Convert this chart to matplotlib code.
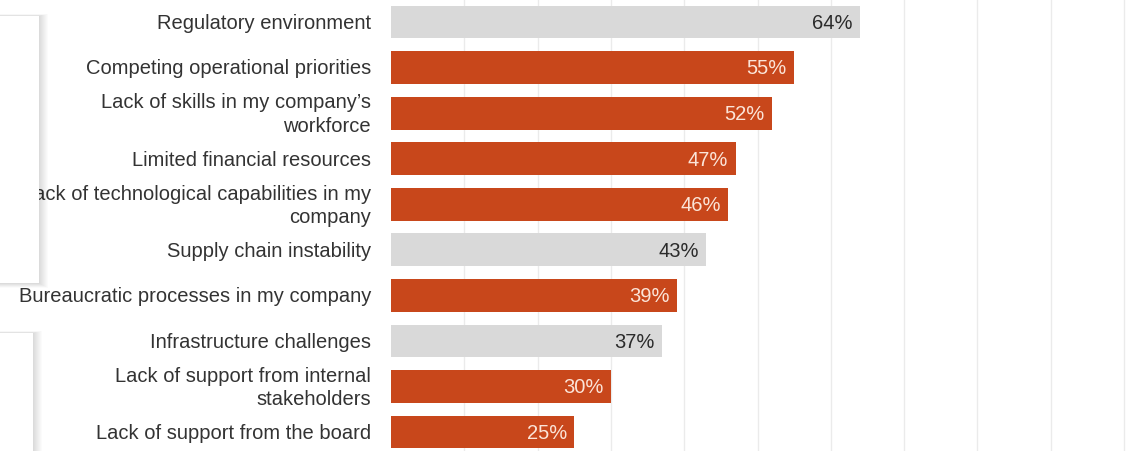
import numpy as np
import matplotlib.pyplot as plt
from matplotlib.patches import Rectangle

plt.rcParams['font.family'] = ['Liberation Sans', 'DejaVu Sans']

categories = [
    "Regulatory environment",
    "Competing operational priorities",
    "Lack of skills in my company\u2019s\nworkforce",
    "Limited financial resources",
    "Lack of technological capabilities in my\ncompany",
    "Supply chain instability",
    "Bureaucratic processes in my company",
    "Infrastructure challenges",
    "Lack of support from internal\nstakeholders",
    "Lack of support from the board",
]
values = [64, 55, 52, 47, 46, 43, 39, 37, 30, 25]
highlight = [False, True, True, True, True, False, True, False, True, True]

ORANGE = '#C8471B'
GREY = '#D9D9D9'

W, H = 1137, 451
fig = plt.figure(figsize=(W / 100, H / 100), dpi=100)
fig.patch.set_facecolor('white')

ax = fig.add_axes([391 / W, 0, 1 - 391 / W, 1])
ax.set_xlim(0, (W - 391) / 7.33)
ax.set_ylim(9.416, -0.483)
for s in ax.spines.values():
    s.set_visible(False)
ax.set_xticks([])
ax.set_yticks([])

for g in range(10, 101, 10):
    ax.axvline(g, color='#EBEBEB', lw=1, zorder=0)

y = np.arange(len(categories))
colors = [ORANGE if h else GREY for h in highlight]
ax.barh(y, values, height=0.72, color=colors, zorder=2)

for i, (v, h) in enumerate(zip(values, highlight)):
    ax.text(v - 1.0, i + 0.03, f"{v}%", ha='right', va='center', fontsize=14.5,
            color='#FBE4D8' if h else '#2B2B2B', zorder=3)
    ax.annotate(categories[i], xy=(0, i + 0.03), xytext=(-20, 0), textcoords='offset pixels',
                ha='right', va='center', fontsize=14.5, color='#333333',
                linespacing=1.28, annotation_clip=False, zorder=3)

# overlaid white cards with soft shadow on the left
def card(x0, y0, x1, y1):
    for k in range(9, 0, -1):
        fig.patches.append(Rectangle((x0 / W, 1 - (y1 + k * 0.5) / H),
                                     (x1 - x0 + k) / W, (y1 - y0 + k * 0.7) / H,
                                     transform=fig.transFigure, facecolor='black',
                                     alpha=0.016, edgecolor='none', zorder=10))
    fig.patches.append(Rectangle((x0 / W, 1 - y1 / H), (x1 - x0) / W, (y1 - y0) / H,
                                 transform=fig.transFigure, facecolor='white',
                                 edgecolor='none', zorder=11))

card(0, 16, 39, 283)
card(0, 333, 33, 460)

fig.savefig('out.png', dpi=100, facecolor='white')
